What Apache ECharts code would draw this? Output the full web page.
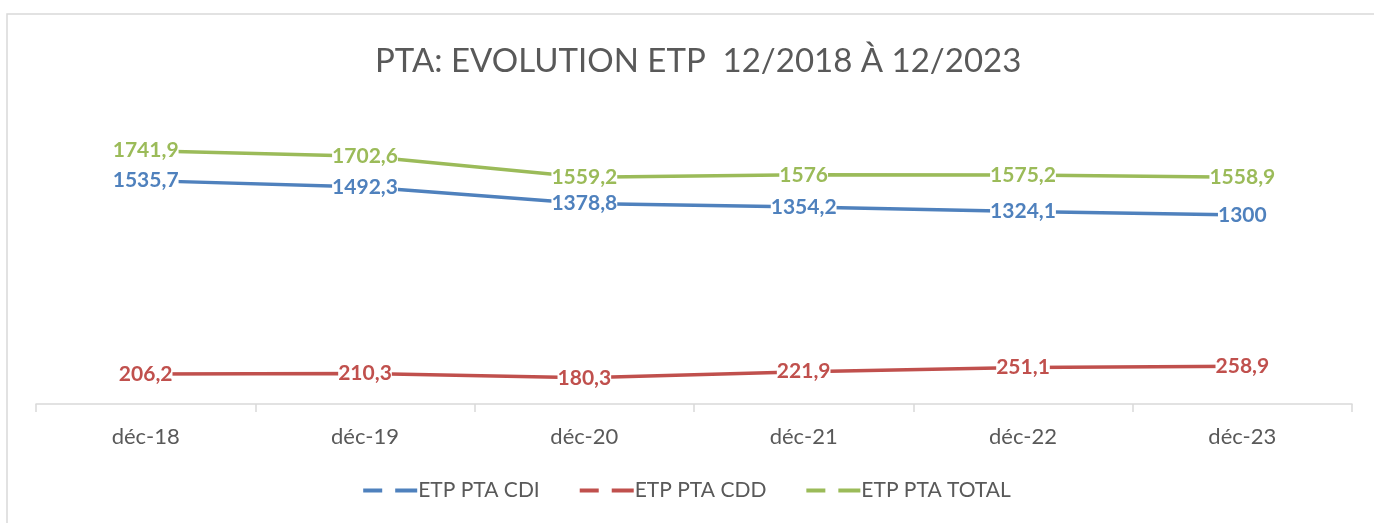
<!DOCTYPE html>
<html>
<head>
<meta charset="utf-8">
<script src="https://cdn.jsdelivr.net/npm/echarts@6/dist/echarts.min.js"></script>
<style>
  html, body { margin: 0; padding: 0; background: #ffffff; }
  #chart { width: 1374px; height: 523px; }
</style>
</head>
<body>
<div id="chart"></div>
<script>
// Year-end headcount (ETP) for PTA staff
const categories = ['déc-18', 'déc-19', 'déc-20', 'déc-21', 'déc-22', 'déc-23'];
const etpCdi = [1535.7, 1492.3, 1378.8, 1354.2, 1324.1, 1300];
const etpCdd = [206.2, 210.3, 180.3, 221.9, 251.1, 258.9];
const etpTotal = [1741.9, 1702.6, 1559.2, 1576, 1575.2, 1558.9];

const FONT = 'Lato, "Open Sans", sans-serif';
const dashIcon = 'path://M0,0h19v4h-19z M32,0h22v4h-22z';

function frNumber(v) {
  return String(v).replace('.', ',');
}

function lineSeries(name, data, color) {
  return {
    name: name,
    type: 'line',
    data: data,
    symbol: 'circle',
    symbolSize: 1,
    itemStyle: { color: color },
    lineStyle: { color: color, width: 3.5 },
    label: {
      show: true,
      position: 'inside',
      color: color,
      fontFamily: FONT,
      fontWeight: 'bold',
      fontSize: 21,
      backgroundColor: '#ffffff',
      padding: 0,
      formatter: p => frNumber(p.value)
    },
    emphasis: { disabled: true },
    animation: false
  };
}

const chart = echarts.init(document.getElementById('chart'), null, { renderer: 'canvas' });

chart.setOption({
  backgroundColor: '#ffffff',
  animation: false,
  title: {
    text: 'PTA: EVOLUTION ETP  12/2018 À 12/2023',
    left: 370,
    top: 40,
    textStyle: {
      fontFamily: FONT,
      fontWeight: 'normal',
      fontSize: 33,
      color: '#595959'
    }
  },
  graphic: [{
    type: 'rect',
    shape: { x: 7, y: 14, width: 1400, height: 600 },
    style: { fill: 'none', stroke: '#d9d9d9', lineWidth: 1.5 },
    silent: true,
    z: -1
  }],
  legend: {
    bottom: 17,
    left: 'center',
    icon: dashIcon,
    itemWidth: 54,
    itemHeight: 4,
    itemGap: 40,
    textStyle: {
      fontFamily: FONT,
      fontSize: 21,
      color: '#595959',
      padding: [0, 0, 0, -4]
    },
    data: ['ETP PTA CDI', 'ETP PTA CDD', 'ETP PTA TOTAL']
  },
  grid: { left: 36, right: 22, top: 116, bottom: 119, containLabel: false },
  xAxis: {
    type: 'category',
    data: categories,
    boundaryGap: true,
    axisLine: { lineStyle: { color: '#d9d9d9', width: 1.5 } },
    axisTick: { show: true, length: 8, lineStyle: { color: '#d9d9d9', width: 1.5 } },
    axisLabel: {
      fontFamily: FONT,
      fontSize: 22,
      color: '#595959',
      margin: 22
    }
  },
  yAxis: {
    type: 'value',
    min: 0,
    max: 1980,
    show: false,
    splitLine: { show: false }
  },
  series: [
    lineSeries('ETP PTA CDI', etpCdi, '#4f81bd'),
    lineSeries('ETP PTA CDD', etpCdd, '#c0504d'),
    lineSeries('ETP PTA TOTAL', etpTotal, '#9bbb59')
  ]
});
</script>
</body>
</html>
